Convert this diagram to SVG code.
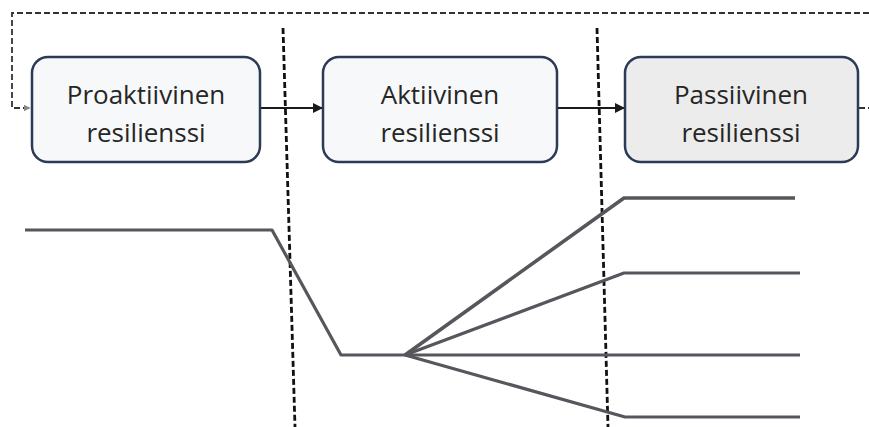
<svg xmlns="http://www.w3.org/2000/svg" width="869" height="427" viewBox="0 0 869 427">
<style>
.box{fill:#f7f8fa;stroke:#2b3a56;stroke-width:2.5}
.box.p{fill:#ececec}
.lbl{font-family:"Open Sans","Liberation Sans",sans-serif;font-size:26px;fill:#262626;text-anchor:middle}
.conn{stroke:#1a1a1a;stroke-width:2;fill:none}
.fb{stroke:#333;stroke-width:1.8;stroke-dasharray:6 3;fill:none}
.div{stroke:#111;stroke-width:2.8;stroke-dasharray:6 3;fill:none}
.curve{stroke:#56575c;stroke-width:3.2;fill:none;stroke-linejoin:round}
</style>
<defs>
<marker id="ah" viewBox="0 0 10 10" refX="9" refY="5" markerWidth="5" markerHeight="5" orient="auto">
<path d="M0,0 L10,5 L0,10 z" fill="#1a1a1a"/>
</marker>
<marker id="ahg" viewBox="0 0 10 10" refX="9" refY="5" markerWidth="4" markerHeight="4" orient="auto">
<path d="M0,0 L10,5 L0,10 z" fill="#888"/>
</marker>
</defs>
<rect width="869" height="427" fill="#ffffff"/>
<g id="dividers">
<line class="div" x1="283" y1="28" x2="295" y2="427"/>
<line class="div" x1="597" y1="28" x2="608" y2="427"/>
</g>
<g id="connectors">
<path class="fb" d="M869,13 L12,13 L12,108 L30,108" marker-end="url(#ahg)"/>
<path class="fb" d="M859,108 L869,108"/>
<line class="conn" x1="261" y1="108" x2="322" y2="108" marker-end="url(#ah)"/>
<line class="conn" x1="558" y1="108" x2="624" y2="108" marker-end="url(#ah)"/>
</g>
<g id="node-proaktiivinen">
<rect class="box" x="32" y="57" width="228" height="105" rx="16"/>
<text class="lbl" x="146" y="104">Proaktiivinen</text>
<text class="lbl" x="146" y="142">resilienssi</text>
</g>
<g id="node-aktiivinen">
<rect class="box" x="323" y="57" width="234" height="105" rx="16"/>
<text class="lbl" x="440" y="104">Aktiivinen</text>
<text class="lbl" x="440" y="142">resilienssi</text>
</g>
<g id="node-passiivinen">
<rect class="box p" x="625" y="57" width="233" height="105" rx="16"/>
<text class="lbl" x="741" y="104">Passiivinen</text>
<text class="lbl" x="741" y="142">resilienssi</text>
</g>
<g id="curves">
<path class="curve" d="M25,230 L272,230 L341,355 L405,355"/>
<path class="curve" d="M405,355 L624,198 L795,198" style="stroke-width:3.6"/>
<path class="curve" d="M405,355 L624,273 L800,273"/>
<path class="curve" d="M405,355 L800,355"/>
<path class="curve" d="M405,355 L625,417 L800,417"/>
</g>
</svg>
